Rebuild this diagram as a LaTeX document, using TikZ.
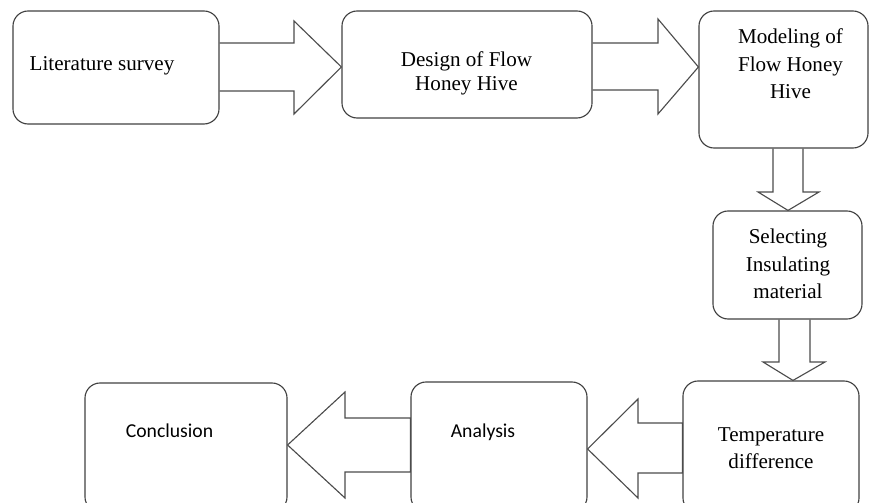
\documentclass[tikz,border=0pt]{standalone}
\usepackage{fontspec}
\setmainfont{Liberation Serif}
\newfontfamily\calfont{Carlito}
\usetikzlibrary{calc}

\begin{document}
\begin{tikzpicture}[
      x=0.025cm, y=-0.025cm,
      block/.style={rectangle, rounded corners=0.38cm, draw=black!75, line width=0.8pt,
                    inner sep=0pt},
      txt/.style={align=center, inner sep=0pt, anchor=base,
                  font=\fontsize{15}{19.5}\selectfont},
      ctxt/.style={inner sep=0pt, anchor=base, font=\calfont\fontsize{14}{17}\selectfont},
      barrow/.style={draw=black!70, line width=0.8pt, line join=miter}
    ]
        \clip (0,0) rectangle (869,503);
        % boxes
        \node[block, minimum width=5.15cm, minimum height=2.825cm] (lit) at (116,67.5) {};
        \node[block, minimum width=6.25cm, minimum height=2.675cm] (design) at (467,64.5) {};
        \node[block, minimum width=4.225cm, minimum height=3.425cm] (model) at (783.5,79.5) {};
        \node[block, minimum width=3.725cm, minimum height=2.7cm] (select) at (787.5,265) {};
        \node[block, minimum width=4.4cm, minimum height=3.3cm] (temp) at (771,447) {};
        \node[block, minimum width=4.4cm, minimum height=3.25cm] (ana) at (499,447) {};
        \node[block, minimum width=5.05cm, minimum height=3.225cm] (conc) at (186,447.5) {};
        % texts (base = last line)
        \node[txt] (littext) at (102,71) {Literature survey};
        \node[txt, font=\fontsize{15}{17}\selectfont] (designtext) at (466.5,90.5) {Design of Flow\\Honey Hive};
        \node[txt] (modeltext) at (790.5,98.5) {Modeling of\\Flow Honey\\Hive};
        \node[txt] (selecttext) at (788,298.5) {Selecting\\Insulating\\material};
        \node[txt] (temptext) at (771,469) {Temperature\\difference};
        \node[ctxt] (anatext) at (483,438) {Analysis};
        \node[ctxt] (conctext) at (169.5,438) {Conclusion};
        % block arrows
        \draw[barrow] (lit.east |- 0,43) -- (294,43) -- (294,21) -- (design.west |- 0,67)
            -- (294,114) -- (294,91) -- (lit.east |- 0,91);
        \draw[barrow] (design.east |- 0,43) -- (658,43) -- (658,19) -- (model.west |- 0,67)
            -- (658,114) -- (658,90) -- (design.east |- 0,90);
        \draw[barrow] (773,0 |- model.south) -- (773,192) -- (758,192) -- (788,0 |- select.north)
            -- (819,192) -- (803,192) -- (803,0 |- model.south);
        \draw[barrow] (779,0 |- select.south) -- (779,362) -- (763,362) -- (793,0 |- temp.north)
            -- (825,362) -- (810,362) -- (810,0 |- select.south);
        \draw[barrow] (temp.west |- 0,423) -- (638,423) -- (638,399) -- (ana.east |- 0,449)
            -- (638,498) -- (638,473) -- (temp.west |- 0,473) -- cycle;
        \draw[barrow] (ana.west |- 0,418) -- (345,418) -- (345,392) -- (conc.east |- 0,445)
            -- (345,498) -- (345,472) -- (ana.west |- 0,472) -- cycle;
    \end{tikzpicture}
\end{document}
